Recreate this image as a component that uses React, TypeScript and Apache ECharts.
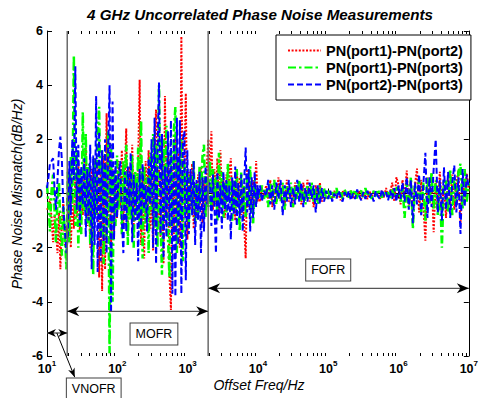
import React, { useEffect, useRef } from "react";
import * as echarts from "echarts";

// ---------------- data ----------------
const FREQ_HZ = [
  // 10 Hz - 19 Hz
  10, 10.5, 11, 11.6, 12.2, 12.8, 13.4, 14.1, 14.8, 15.5, 16.3, 17.1, 18, 18.9,
  // 20 Hz - 100 Hz
  19.8, 20.8, 21.8, 22.9, 24.1, 25.3, 26.5, 27.9, 29.3, 30.7, 32.3, 33.9, 35.6, 37.3, 39.2, 41.2, 43.2,
  45.4, 47.6, 50, 52.5, 55.2, 57.9, 60.8, 63.9, 67, 70.4, 73.9, 77.6, 81.5, 85.6, 89.9, 94.3, 99.1,
  // 100 Hz - 1 kHz
  104, 110, 116, 122, 128, 134, 141, 148, 155, 163, 171, 180, 189, 198, 208, 218, 229, 241, 253, 265,
  279, 293, 307, 323, 339, 356, 373, 392, 412, 432, 454, 476, 500, 525, 552, 579, 608, 639, 670, 704,
  739, 776, 815, 856, 899, 943, 991,
  // 1 kHz - 2 kHz
  1040, 1100, 1160, 1220, 1280, 1340, 1410, 1480, 1550, 1630, 1710, 1800, 1890, 1980,
  // 2 kHz - 10 kHz
  2080, 2180, 2290, 2410, 2530, 2650, 2790, 2930, 3070, 3230, 3390, 3560, 3730, 3920, 4120, 4320, 4540,
  4760, 5000, 5250, 5520, 5790, 6080, 6390, 6700, 7040, 7390, 7760, 8150, 8560, 8990, 9430, 9910,
  // 10 kHz - 100 kHz
  10000, 10700, 11400, 12200, 13100, 14000, 15000, 16000, 17100, 18300, 19600, 21000, 22500, 24100,
  25800, 27600, 29500, 31600, 33800, 36200, 38700, 41400, 44300, 47400, 50700, 54300, 58100, 62100,
  66500, 71100, 76100, 81500, 87200, 93300,
  // 100 kHz - 1 MHz
  100000, 107000, 114000, 122000, 131000, 140000, 150000, 160000, 171000, 183000, 196000, 210000,
  225000, 241000, 258000, 276000, 295000, 316000, 338000, 362000, 387000, 414000, 443000, 474000,
  507000, 543000, 581000, 621000, 665000, 711000, 761000, 815000, 872000, 933000,
  // 1 MHz - 10 MHz
  1000000, 1070000, 1140000, 1220000, 1310000, 1400000, 1500000, 1600000, 1710000, 1830000, 1960000,
  2100000, 2250000, 2410000, 2580000, 2760000, 2950000, 3160000, 3380000, 3620000, 3870000, 4140000,
  4430000, 4740000, 5070000, 5430000, 5810000, 6210000, 6650000, 7110000, 7610000, 8150000, 8720000,
  9330000, 10000000,
];

// PN(port1)-PN(port2), red dotted
const PN12 = [
  -0.6, -0.5, -0.2, -0.9, -1.8, -0.8, -1.3, -2.2, -0.7, -2.8, -1.0, -0.3, -1.9, -1.2,
  -1.6, 0.2, -2.0, -0.2, -1.3, 0.7, -0.9, 1.2, -1.4, 0.4,
  -0.8, 1.0, 1.7, -1.2, 0.6, -2.0, 0.9, -1.5, 1.3, -0.6,
  1.1, -3.1, 0.8, -3.6, 1.4, -2.8, 2.96, -1.0, 1.6, -2.0,
  0.9, -1.4, 0.5, -0.9, 1.2, -0.5, 1.6, -1.1, 0.8, 2.4,
  -1.5, 1.0, -0.7, 1.8, -1.2, 0.6, -0.4, 1.1, 4.2, -1.9,
  0.7, -2.4, 1.2, -0.8, 1.6, -1.3, 0.5, -2.1, 1.9, 3.1,
  -1.2, 0.9, -1.6, 1.7, -2.6, 3.6, -0.7, 1.4, -3.0, -4.3,
  1.0, -1.5, 2.2, -0.8, 1.5, -2.0, 5.8, -1.1, 1.2, 3.7,
  -1.7, 0.8, -0.6, 1.1, -1.3, 0.4, -0.9, 0.7, -0.5, 1.0,
  -1.1, 0.5, -0.7, 1.2, 2.0,
  0.6, 2.3, -0.6, 0.9, -0.4, 1.3, -0.7, 1.6, -0.3, 0.5, -0.9, 0.7, -0.2, 0.8, 1.3, -0.6, 0.4,
  -1.0, 0.9, -0.3, 0.6, -0.8, 0.3, -1.2, -2.4, 0.9, -0.5, 0.4, -0.7, 0.5, -0.4, 1.2, -0.3,
  0.1, -0.3, 0.2, -0.1, 0.3, -0.2, 0.5, -0.5, 0.2, -0.3, 0.6, -0.2, 0.3, -0.4, 0.5, -0.3, 0.2,
  -0.5, 0.4, -0.1, 0.3, -0.4, 0.4, -0.2, 0.5, -0.3, 0.2, -0.5, 0.3, -0.2, 0.4, -0.3, 0.1, -0.2,
  -0.1, 0.05, -0.2, 0.1, -0.15, 0.0, -0.25, 0.1, -0.1, 0.05, -0.15, 0.1, -0.2, 0.0, -0.1, 0.1, -0.2,
  0.05, -0.1, -0.2, 0.1, -0.15, 0.05, -0.1, 0.0, -0.2, 0.1, -0.15, 0.2, -0.1, 0.05, 0.4, -0.3, 0.6,
  0.3, -0.4, 0.5, -0.2, 0.85, -0.5, 0.4, -0.6, 0.3, 0.92, -0.7, 0.5, -0.4, -1.74, 0.6, -0.3, 0.7,
  -1.43, 0.4, -0.6, 0.8, -0.5, 0.3, -0.9, 0.6, -0.4, 0.7, -0.6, 0.4, 0.85, -1.1, 0.5, -0.3, 0.74, 0.1,
];

// PN(port1)-PN(port3), green dash-dot
const PN13 = [
  0.3, -0.4, -1.4, 0.1, 0.7, -0.6, -1.8, -0.2, 0.4, -1.2, -2.3, -0.5, -1.6, -2.8,
  0.8, -1.8, 1.4, -0.5, 5.1, -1.2, 1.6, -2.0, 0.9, -1.5,
  3.0, -0.7, 2.2, -1.1, 1.1, -1.9, 0.6, -3.0, 1.3, -0.8,
  2.1, 3.2, -1.4, 1.6, -2.6, 1.0, -1.6, 2.3, -5.9, 1.8,
  -4.0, 0.8, -1.2, 1.4, -0.6, 0.9, -1.5, 1.2, -0.4, 1.8,
  -1.9, 0.5, -1.0, 1.4, -2.0, 0.8, -0.8, 1.7, -1.3, 2.7,
  -2.4, 1.0, -1.1, 0.6, -2.2, 1.5, -0.6, 2.2, -1.3, 1.8,
  -2.0, 4.0, -1.0, -3.0, 2.0, -0.9, 2.5, -1.6, -3.1, 1.6,
  -1.2, 2.4, 3.2, -2.2, 1.3, -1.0, 2.0, -2.5, 1.1, -0.7,
  0.9, -1.3, 0.7, -0.5, 1.2, -1.1, 0.4, -0.8, 1.0, -0.3,
  1.4, 1.8, -0.9, 0.6, -0.5,
  1.2, -0.6, 0.9, -0.3, 0.6, -1.0, 1.5, -0.4, 0.8, -0.9, 0.4, -0.7, 1.1, -0.3, 0.6, -1.0, 0.5,
  -0.6, 0.9, -0.2, -1.4, 0.8, -0.5, 0.3, -0.9, 0.7, -0.4, 1.0, -0.6, -1.1, 0.5, -0.3, 0.2,
  0.2, -0.2, 0.3, -0.2, 0.2, -0.5, 0.4, -0.3, 0.5, -0.4, 0.3, -0.3, 0.4, -0.6, 0.3, -0.2, 0.4,
  -0.5, 0.3, -0.2, 0.5, -0.3, 0.2, -0.4, 0.3, -0.2, 0.4, -0.3, 0.2, -0.4, 0.3, -0.1, 0.2, -0.2,
  0.1, -0.2, 0.05, -0.15, 0.2, -0.1, 0.1, -0.2, 0.15, -0.05, -0.2, 0.1, -0.1, 0.15, -0.2, 0.05, 0.1,
  -0.15, 0.2, -0.1, 0.05, -0.2, 0.1, -0.1, 0.15, -0.05, -0.15, 0.1, -0.1, 0.05, -0.2, 0.15, -0.1, 0.2,
  0.2, -0.3, 0.3, -0.9, 0.4, -0.5, 0.6, -1.3, 0.3, -0.2, 0.5, -0.7, 0.4, -1.0, 0.6, -0.4, 0.8,
  -0.6, 0.5, -0.8, 0.4, -2.0, 0.5, 0.5, -0.7, 0.9, -0.8, 0.6, -0.4, 0.8, 1.1, -0.6, 0.9, -0.3, 0.4,
];

// PN(port2)-PN(port3), blue dashed
const PN23 = [
  0.2, 0.6, 1.1, 1.2, 1.3, 0.2, -0.6, 0.5, 1.6, 2.1, 1.2, -0.6, -1.4, -2.2,
  -1.5, 1.2, -0.8, 2.0, 0.5, 4.7, -0.6, 1.8, -1.2, 1.0,
  -0.4, 1.3, -1.6, 0.9, -1.0, 1.8, -2.8, 1.4, -1.9, 3.6,
  -2.9, 2.3, -2.5, 1.6, -1.8, 2.0, -2.2, 1.5, 4.0, -4.4,
  3.4, -1.7, 1.2, -0.9, 0.6, 1.2, -1.0, -2.2, 0.8, -1.4,
  1.0, -0.5, 1.5, -1.8, 0.7, -1.0, 0.4, -2.5, 0.9, -1.2,
  1.1, -0.6, 0.3, -1.4, 1.3, -0.4, 2.0, -2.0, 2.8, -2.6,
  1.5, 4.1, -1.5, 2.2, -2.4, 1.0, -1.6, 2.3, -1.2, 2.7,
  -3.7, 2.0, -3.8, 2.8, -1.9, 2.7, -3.7, 2.0, 2.3, -3.2,
  1.6, -1.5, 0.9, -0.8, 1.2, -1.9, 0.5, -1.0, 0.8, -2.2,
  0.6, -1.4, 1.0, -0.4, 0.3,
  0.4, -1.2, 0.7, -0.5, -2.2, 0.8, -0.9, 0.3, -1.3, 0.8, -0.6, 0.5, -1.0, 0.3, -1.7, 0.6, -0.8,
  1.0, -1.2, 0.4, -0.9, 0.7, -1.4, 0.5, 1.7, -0.7, 0.9, -1.4, 0.6, -0.9, 0.8, -0.5, 0.3,
  -0.2, 0.3, -0.3, 0.1, -0.1, 0.5, -0.4, 0.3, -0.6, 0.4, -0.2, 0.5, -0.8, 0.3, -0.3, 0.5, -0.5,
  0.2, -0.4, 0.5, -0.3, 0.4, -0.5, 0.2, -0.3, 0.4, -0.2, 0.3, -0.7, 0.3, -0.4, 0.2, -0.3, 0.1,
  -0.2, 0.1, -0.3, 0.0, -0.2, 0.1, -0.1, -0.3, 0.05, -0.15, 0.1, -0.25, 0.0, -0.2, 0.15, -0.1, -0.25,
  0.05, -0.2, 0.1, -0.15, 0.0, -0.3, 0.1, -0.1, -0.2, 0.15, -0.1, 0.05, -0.25, 0.1, -0.2, 0.2, -0.3,
  0.3, -0.2, 0.4, -0.3, 0.6, -0.6, 0.5, -1.1, 0.4, -0.4, 0.7, -0.8, 0.3, 1.5, -0.9, 0.6, -0.5,
  0.9, 2.0, -0.7, 0.5, -1.0, 0.97, -0.6, 0.8, -0.9, 0.4, 1.04, -0.7, 0.6, -1.49, 0.9, -0.5, 0.7, 0.2,
];

const SERIES_NAMES = ["PN(port1)-PN(port2)", "PN(port1)-PN(port3)", "PN(port2)-PN(port3)"];
const SERIES_VALUES = [PN12, PN13, PN23];
const TITLE = "4 GHz Uncorrelated Phase Noise Measurements";
const X_NAME = "Offset Freq/Hz";
const Y_NAME = "Phase Noise Mismatch(dB/Hz)";

const X_MIN = 10;
const X_MAX = 1e7;
const Y_MIN = -6;
const Y_MAX = 6;
const Y_INTERVAL = 2;

// region annotations (data coordinates)
const REGION_BOUNDS_HZ = [19.4, 1960];
const REGION_ARROWS = [
  { from: 10, to: 19.4, y: -5.15, small: true },
  { from: 19.4, to: 1960, y: -4.35, small: false },
  { from: 1960, to: 1e7, y: -3.5, small: false },
];
const REGION_LABELS = [
  { text: "MOFR", f: 332, v: -5.19 },
  { text: "FOFR", f: 100000, v: -2.82 },
  { text: "VNOFR", f: 46.2, v: -7.22 },
];
const VNOFR_POINTER = { from: [13.8, -5.15], to: [24.8, -6.78] };
const MINOR_TICK_MANTISSAS = [2, 3, 4, 5, 6, 7, 8, 9];
const MINOR_TICK_DECADES = [10, 100, 1000, 10000, 100000, 1000000];

const FONT = '"Liberation Sans", Arial, Helvetica, sans-serif';
const COLORS = ["#ff0000", "#00ff00", "#0000ff"];
const DASHES: number[][] = [[2, 1.6], [8, 3, 2.5, 3], [6, 3]];
const WIDTHS = [2, 2.5, 2];

function headPoints(tip: number[], dx: number, dy: number, L: number, W: number) {
  const len = Math.hypot(dx, dy) || 1;
  const ux = dx / len, uy = dy / len;
  const px = -uy, py = ux;
  const bx = tip[0] - ux * L, by = tip[1] - uy * L;
  const nx = tip[0] - ux * L * 0.7, ny = tip[1] - uy * L * 0.7;
  return [
    [tip[0], tip[1]],
    [bx + px * W, by + py * W],
    [nx, ny],
    [bx - px * W, by - py * W],
  ];
}

function renderAnnotations(_params: any, api: any) {
  const children: any[] = [];
  const c = (f: number, v: number) => api.coord([f, v]);
  // minor log ticks (top and bottom)
  for (const d of MINOR_TICK_DECADES) {
    for (const m of MINOR_TICK_MANTISSAS) {
      const pb = c(m * d, Y_MIN);
      const pt = c(m * d, Y_MAX);
      const x = Math.round(pb[0]) + 0.5;
      children.push({ type: "line", shape: { x1: x, y1: pb[1], x2: x, y2: pb[1] - 3 }, style: { stroke: "#000", lineWidth: 1 } });
      children.push({ type: "line", shape: { x1: x, y1: pt[1], x2: x, y2: pt[1] + 3 }, style: { stroke: "#000", lineWidth: 1 } });
    }
  }
  // region boundaries
  for (const f of REGION_BOUNDS_HZ) {
    const a = c(f, Y_MAX);
    const b = c(f, Y_MIN);
    children.push({ type: "line", shape: { x1: a[0], y1: a[1], x2: b[0], y2: b[1] }, style: { stroke: "#6a6a6a", lineWidth: 1.5 } });
  }
  // double arrows
  for (const ar of REGION_ARROWS) {
    const a = c(ar.from, ar.y);
    const b = c(ar.to, ar.y);
    const L = ar.small ? 9 : 12;
    const W = ar.small ? 4 : 5;
    children.push({ type: "line", shape: { x1: a[0], y1: a[1], x2: b[0], y2: b[1] }, style: { stroke: "#555", lineWidth: 1.3 } });
    children.push({ type: "polygon", shape: { points: headPoints(a, a[0] - b[0], a[1] - b[1], L, W) }, style: { fill: "#000" } });
    children.push({ type: "polygon", shape: { points: headPoints(b, b[0] - a[0], b[1] - a[1], L, W) }, style: { fill: "#000" } });
  }
  // pointer to VNOFR label
  {
    const a = c(VNOFR_POINTER.from[0], VNOFR_POINTER.from[1]);
    const b = c(VNOFR_POINTER.to[0], VNOFR_POINTER.to[1]);
    children.push({ type: "line", shape: { x1: a[0], y1: a[1], x2: b[0], y2: b[1] }, style: { stroke: "#000", lineWidth: 1 } });
    children.push({ type: "polygon", shape: { points: headPoints(b, b[0] - a[0], b[1] - a[1], 9, 3.5) }, style: { fill: "#000" } });
  }
  // labels in boxes
  for (const lb of REGION_LABELS) {
    const p = c(lb.f, lb.v);
    children.push({
      type: "text",
      x: p[0],
      y: p[1],
      style: {
        text: lb.text,
        font: `12.5px ${FONT}`,
        fill: "#000",
        align: "center",
        verticalAlign: "middle",
        textAlign: "center",
        textVerticalAlign: "middle",
        backgroundColor: "#fff",
        borderColor: "#404040",
        borderWidth: 1,
        padding: [4, 5, 4, 5],
      },
    });
  }
  return { type: "group", children };
}

export default function App() {
  const ref = useRef<HTMLDivElement>(null);
  useEffect(() => {
    if (!ref.current) return;
    const chart = echarts.init(ref.current, undefined, { renderer: "svg" });
    const lineSeries = SERIES_NAMES.map((name, i) => ({
      name,
      type: "line",
      data: FREQ_HZ.map((f, k) => [f, SERIES_VALUES[i][k]]),
      symbol: "none",
      showSymbol: false,
      z: 2 + i,
      lineStyle: { color: COLORS[i], width: WIDTHS[i], type: DASHES[i] },
      itemStyle: { color: COLORS[i] },
    }));
    const xAxisBase = {
      type: "log",
      logBase: 10,
      min: X_MIN,
      max: X_MAX,
      splitNumber: 6,
      splitLine: { show: false },
      axisLine: { lineStyle: { color: "#000", width: 1 } },
      axisTick: { inside: true, length: 5, lineStyle: { color: "#000" } },
    };
    const yAxisBase = {
      type: "value",
      min: Y_MIN,
      max: Y_MAX,
      interval: Y_INTERVAL,
      splitLine: { show: false },
      axisLine: { show: true, lineStyle: { color: "#000", width: 1 } },
      axisTick: { show: true, inside: true, length: 5, lineStyle: { color: "#000" } },
    };
    chart.setOption({
      animation: false,
      grid: { left: 47, right: 8, top: 31, bottom: 42, containLabel: false },
      xAxis: [
        {
          ...xAxisBase,
          position: "bottom",
          axisLabel: {
            margin: 3,
            showMinLabel: true,
            showMaxLabel: true,
            formatter: (v: number) => `{b|10}{s|${Math.round(Math.log10(v))}}`,
            rich: {
              b: { fontSize: 12.5, fontWeight: "bold", fontFamily: FONT, color: "#000", lineHeight: 20 },
              s: { fontSize: 8, fontWeight: "bold", fontFamily: FONT, color: "#000", verticalAlign: "top", lineHeight: 8 },
            },
          },
        },
        { ...xAxisBase, position: "top", axisLabel: { show: false } },
      ],
      yAxis: [
        {
          ...yAxisBase,
          position: "left",
          axisLabel: { margin: 4, fontSize: 12.5, fontWeight: "bold", fontFamily: FONT, color: "#000" },
        },
        { ...yAxisBase, position: "right", axisLabel: { show: false } },
      ],
      legend: {
        data: SERIES_NAMES,
        orient: "vertical",
        left: 276,
        top: 35,
        padding: [8, 8, 8, 11],
        itemWidth: 33,
        itemHeight: 14,
        itemGap: 2,
        backgroundColor: "#fff",
        borderColor: "#000",
        borderWidth: 1,
        selectedMode: false,
        itemStyle: { opacity: 0, borderWidth: 0 },
        textStyle: { fontSize: 14.5, fontWeight: "bold", fontFamily: FONT, color: "#000" },
      },
      graphic: [
        {
          type: "text",
          x: 260,
          y: 14,
          style: {
            text: TITLE,
            font: `italic bold 15.2px ${FONT}`,
            fill: "#000",
            textAlign: "center",
            textVerticalAlign: "middle",
            align: "center",
            verticalAlign: "middle",
          },
        },
        {
          type: "text",
          x: 259,
          y: 385,
          style: {
            text: X_NAME,
            font: `italic 14px ${FONT}`,
            fill: "#000",
            textAlign: "center",
            textVerticalAlign: "middle",
            align: "center",
            verticalAlign: "middle",
          },
        },
        {
          type: "text",
          x: 17,
          y: 194,
          rotation: Math.PI / 2,
          style: {
            text: Y_NAME,
            font: `italic 14px ${FONT}`,
            fill: "#000",
            textAlign: "center",
            textVerticalAlign: "middle",
            align: "center",
            verticalAlign: "middle",
          },
        },
      ],
      series: [
        ...lineSeries,
        {
          type: "custom",
          name: "annotations",
          renderItem: renderAnnotations,
          data: [[X_MIN, 0]],
          clip: false,
          silent: true,
          z: 10,
        },
      ],
    });
    return () => chart.dispose();
  }, []);
  return (
    <div
      ref={ref}
      style={{ position: "absolute", left: 0, top: 0, width: 481, height: 398, background: "#fff" }}
    />
  );
}
